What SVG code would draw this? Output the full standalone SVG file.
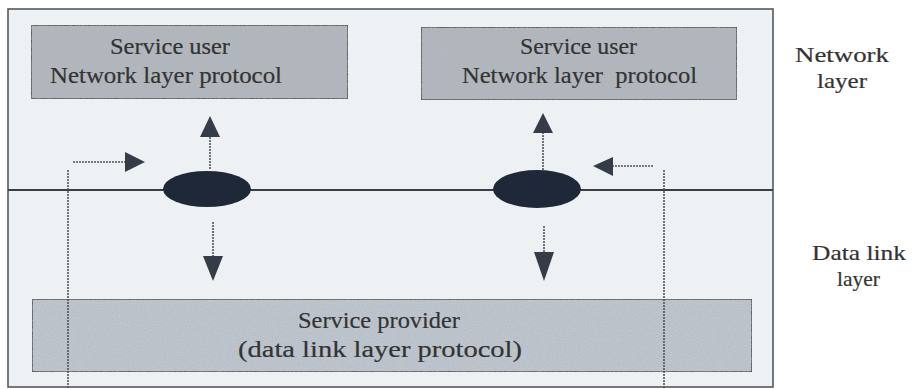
<svg xmlns="http://www.w3.org/2000/svg" width="914" height="389" viewBox="0 0 914 389">
<style>
.txt{font-family:"Liberation Serif","Times New Roman",Times,serif;fill:#333333;stroke:#333333;stroke-width:0.2;white-space:pre}
.box{fill:#b3b8be;stroke:#4a4d52;stroke-width:1.6}
.pbox{fill:#bfc6cf;stroke:#4a4d52;stroke-width:1.6}
.dot{stroke:#50555c;stroke-width:1.6;stroke-dasharray:2 1;fill:none}
.head{fill:#343c48}
.oval{fill:#1f2838}
</style>
<defs>
<filter id="grain" x="0" y="0" width="100%" height="100%">
<feTurbulence type="fractalNoise" baseFrequency="0.8" numOctaves="2" seed="3" result="n"/>
<feColorMatrix in="n" type="matrix" values="0 0 0 0 0.4  0 0 0 0 0.42  0 0 0 0 0.45  0 0 0 0.9 -0.3" result="g"/>
<feComposite in="g" in2="SourceGraphic" operator="in" result="gc"/>
<feMerge><feMergeNode in="SourceGraphic"/><feMergeNode in="gc"/></feMerge>
</filter>
</defs>
<rect width="914" height="389" fill="#ffffff"/>
<g id="frame">
<rect x="8" y="9" width="765" height="378" fill="#eef1f4" stroke="#55585c" stroke-width="1.6"/>
<line x1="8" y1="190" x2="773" y2="190" stroke="#3a3e44" stroke-width="1.8"/>
</g>
<g id="user-left">
<rect class="box" x="31" y="25" width="317" height="74" filter="url(#grain)"/>
<text class="txt" x="110" y="54" font-size="24" textLength="120" lengthAdjust="spacingAndGlyphs">Service user</text>
<text class="txt" x="50" y="83" font-size="24" textLength="232" lengthAdjust="spacingAndGlyphs">Network layer protocol</text>
</g>
<g id="user-right">
<rect class="box" x="421" y="27" width="316" height="73" filter="url(#grain)"/>
<text class="txt" x="520" y="54" font-size="24" textLength="117" lengthAdjust="spacingAndGlyphs">Service user</text>
<text class="txt" x="462" y="83" font-size="24" textLength="235" lengthAdjust="spacingAndGlyphs">Network layer  protocol</text>
</g>
<g id="provider">
<rect class="pbox" x="32" y="299" width="720" height="73" filter="url(#grain)"/>
<text class="txt" x="298" y="328" font-size="24" textLength="162" lengthAdjust="spacingAndGlyphs">Service provider</text>
<text class="txt" x="238" y="357" font-size="24" textLength="284" lengthAdjust="spacingAndGlyphs">(data link layer protocol)</text>
</g>
<g id="sap-left">
<ellipse class="oval" cx="207" cy="189" rx="44" ry="18"/>
</g>
<g id="sap-right">
<ellipse class="oval" cx="537" cy="189" rx="44" ry="19"/>
</g>
<g id="label-network">
<text class="txt" x="795" y="62" font-size="22" textLength="94" lengthAdjust="spacingAndGlyphs">Network</text>
<text class="txt" x="817" y="88" font-size="22" textLength="50" lengthAdjust="spacingAndGlyphs">layer</text>
</g>
<g id="label-datalink">
<text class="txt" x="812" y="260" font-size="22" textLength="94" lengthAdjust="spacingAndGlyphs">Data link</text>
<text class="txt" x="837" y="286" font-size="22" textLength="43" lengthAdjust="spacingAndGlyphs">layer</text>
</g>
<g id="connectors">
<line class="dot" x1="210" y1="169" x2="210" y2="137"/>
<polygon class="head" points="210,116 200,137 220,137"/>
<line class="dot" x1="543" y1="170" x2="543" y2="133"/>
<polygon class="head" points="543,113 533,133 553,133"/>
<line class="dot" x1="73" y1="162" x2="125" y2="162"/>
<polygon class="head" points="145,162 125,152 125,172"/>
<line class="dot" x1="653" y1="166" x2="613" y2="166"/>
<polygon class="head" points="593,166 613,157 613,176"/>
<line class="dot" x1="213" y1="222" x2="213" y2="256"/>
<polygon class="head" points="203,256 223,256 213,281"/>
<line class="dot" x1="544" y1="226" x2="544" y2="252"/>
<polygon class="head" points="534,252 554,252 544,281"/>
<line class="dot" x1="68" y1="170" x2="68" y2="389"/>
<line class="dot" x1="664" y1="170" x2="664" y2="389"/>
</g>
</svg>
